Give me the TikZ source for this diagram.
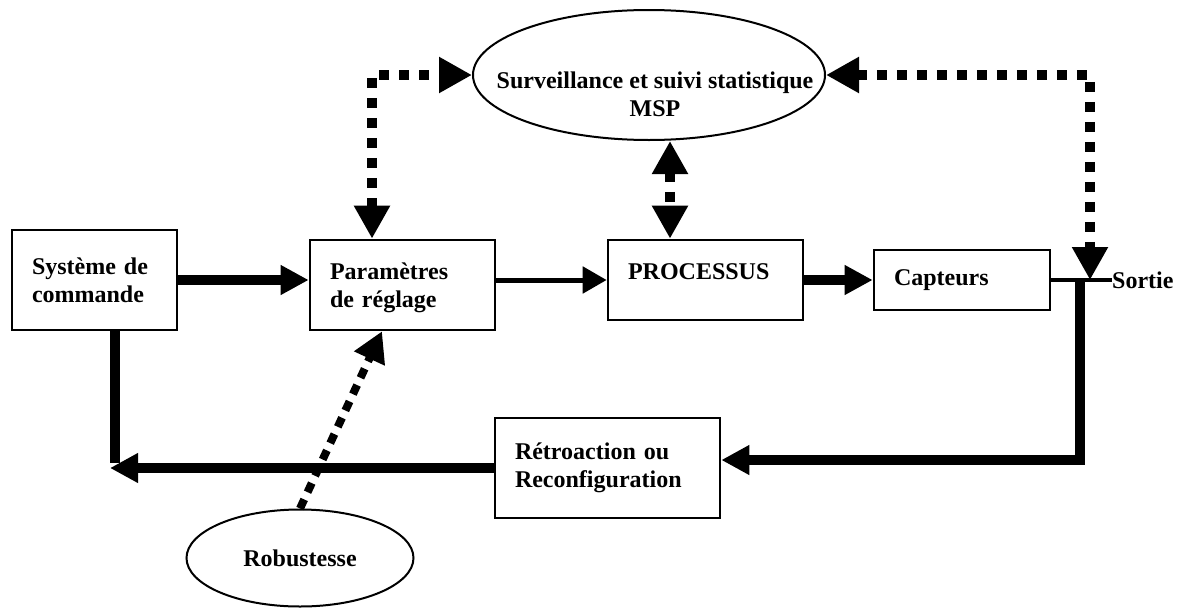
\documentclass[tikz,border=0pt]{standalone}
\usepackage{fontspec}
\setmainfont{Liberation Serif}
\usetikzlibrary{arrows.meta,shapes.geometric}
\begin{document}
\begin{tikzpicture}[x=1pt,y=-1pt,
  every node/.style={font=\fontsize{24}{28}\selectfont\bfseries},
  box/.style={draw,line width=2.6pt,rectangle,inner xsep=20pt,inner ysep=0pt,align=left},
  oval/.style={draw,line width=2pt,ellipse,inner sep=0pt},
  bigflow/.style={line width=10pt,-{Triangle[length=28pt,width=28pt]}},
  thinflow/.style={line width=5pt,-{Triangle[length=24pt,width=26pt]}},
  dflow/.style={line width=10pt,dash pattern=on 10pt off 10pt,
    {Triangle[length=33pt,width=34pt]}-{Triangle[length=33pt,width=34pt]}},
  dflowone/.style={line width=8pt,dash pattern=on 10pt off 8pt,
    -{Triangle[length=30pt,width=32pt]}}
]
\useasboundingbox (0,0) rectangle (1182,608);

% blocks of the control loop
\node[box,minimum width=165pt,minimum height=100pt,text width=125pt] (sys) at (94.5,280) {Système de\\commande};
\node[box,minimum width=185pt,minimum height=90pt,text width=145pt] (par) at (402.5,285) {\raisebox{-3pt}[\height][\depth]{Paramètres}\\\raisebox{-3pt}[\height][\depth]{de réglage}};
\node[box,minimum width=195pt,minimum height=80pt,text width=155pt] (proc) at (705.5,280) {\raisebox{8pt}[\height][\depth]{PROCESSUS}};
\node[box,minimum width=176pt,minimum height=60pt,text width=136pt] (cap) at (962,280) {Capteurs};
\node[box,minimum width=225pt,minimum height=100pt,text width=185pt] (retro) at (607.5,468) {Rétroaction ou\\Reconfiguration};

% supervision and robustness
\node[oval,minimum width=352pt,minimum height=130pt] (msp) at (649,75) {};
\node[align=center,inner sep=0pt] (msptxt) at (655,94) {Surveillance et suivi statistique\\MSP};
\node[oval,minimum width=227pt,minimum height=97pt] (rob) at (300,558) {Robustesse};

% output
\node[anchor=west,inner sep=0pt] (sortie) at (1112,280) {Sortie};

% routing points
\coordinate (jn) at (1080,280);
\coordinate (fb) at (1080,460);
\coordinate (fl) at (115,468);
\coordinate (ft) at (110,468);
\coordinate (c1) at (372,75);
\coordinate (c2) at (1090,75);
\coordinate (c3) at (670,0);
\coordinate (c4) at (382,0);

% forward path
\draw[bigflow] (sys.east) -- (sys.east -| par.west);
\draw[thinflow] (par.east |- proc.west) -- (proc.west);
\draw[bigflow] (proc.east) -- (cap.west);
\draw[line width=3.5pt] (cap.east) -- (sortie.west);

% feedback path
\draw[bigflow,line join=miter] (jn) -- (fb) -- (retro.east |- fb);
\draw[line width=10pt] (sys.south -| fl) -- ([yshift=5pt]fl);
\draw[bigflow] (retro.west |- ft) -- (ft);

% supervision links
\draw[dflow] (par.north -| c1) -- (c1) -- (msp.west);
\draw[dflow] (msp.east) -- (c2) -- (jn -| c2);
\draw[dflow] (msp.south -| c3) -- (proc.north -| c3);
\draw[dflowone] (rob.north) -- (par.south -| c4);
\end{tikzpicture}
\end{document}
